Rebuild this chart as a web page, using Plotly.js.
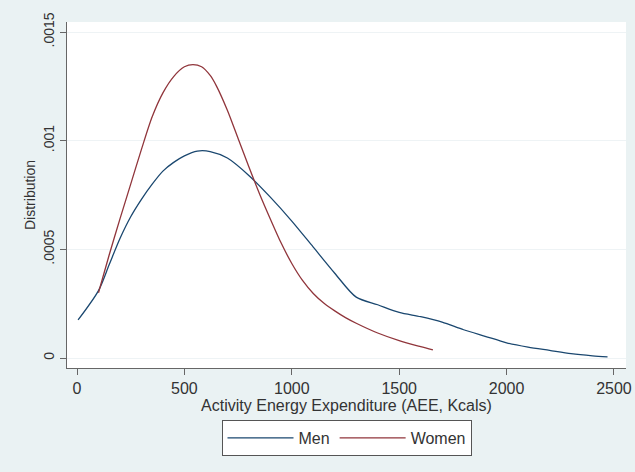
<!DOCTYPE html>
<html>
<head>
<meta charset="utf-8">
<script src="https://cdn.plot.ly/plotly-3.0.1.min.js"></script>
<style>html,body{margin:0;padding:0;background:#eaf2f3;}#chart{width:635px;height:472px;}</style>
</head>
<body>
<div id="chart"></div>
<script>
// Men: kernel density of activity energy expenditure
const menX = [5, 100, 150, 200, 250, 300, 350, 400, 450, 500, 560, 620, 700, 800, 900, 1000, 1100, 1200, 1300, 1400, 1500, 1600, 1700, 1800, 1900, 2000, 2100, 2200, 2300, 2400, 2470];
const menY = [0.000175, 0.00031, 0.00043, 0.00055, 0.00065, 0.00073, 0.0008, 0.00086, 0.0009, 0.00093, 0.000952, 0.00095, 0.00092, 0.00084, 0.00074, 0.00063, 0.00051, 0.00039, 0.00028, 0.000245, 0.00021, 0.00019, 0.000165, 0.00013, 0.0001, 0.00007, 0.00005, 0.000035, 0.00002, 0.00001, 0.000005];
// Women
const womenX = [100, 150, 200, 250, 300, 350, 400, 450, 500, 540, 580, 620, 650, 700, 750, 800, 850, 900, 950, 1000, 1050, 1100, 1150, 1200, 1250, 1300, 1400, 1500, 1600, 1657];
const womenY = [0.0003, 0.000475, 0.00064, 0.0008, 0.00096, 0.00111, 0.00122, 0.001295, 0.00134, 0.00135, 0.00134, 0.0013, 0.00125, 0.00114, 0.00101, 0.00088, 0.000755, 0.00064, 0.00053, 0.000435, 0.000357, 0.000297, 0.000252, 0.000217, 0.000186, 0.00016, 0.000115, 0.00008, 0.000052, 0.000037];

const xTickVals = [0, 500, 1000, 1500, 2000, 2500];
const xTickText = ["0", "500", "1000", "1500", "2000", "2500"];
const yTickVals = [0, 0.0005, 0.001, 0.0015];
const yTickText = ["0", ".0005", ".001", ".0015"];

const seriesNames = ["Men", "Women"];

const font = "Liberation Sans, Arial, sans-serif";

const traces = [
  {x: menX, y: menY, name: seriesNames[0], type: "scatter", mode: "lines",
   line: {color: "#1a476f", width: 1.3, shape: "spline", smoothing: 0.8}},
  {x: womenX, y: womenY, name: seriesNames[1], type: "scatter", mode: "lines",
   line: {color: "#90353b", width: 1.3, shape: "spline", smoothing: 0.8}}
];

const layout = {
  width: 635, height: 472,
  paper_bgcolor: "#eaf2f3",
  plot_bgcolor: "#ffffff",
  margin: {l: 67, r: 9, t: 22, b: 104, pad: 0},
  font: {family: font, size: 16, color: "#333333"},
  xaxis: {
    range: [-46.6, 2556],
    tickvals: xTickVals, ticktext: xTickText,
    ticks: "outside", ticklen: 6, tickcolor: "#666666", tickwidth: 1,
    showline: true, linecolor: "#666666", linewidth: 1,
    showgrid: false, zeroline: false,
    tickfont: {size: 16, family: font, color: "#333333"},
    title: {text: "Activity Energy Expenditure (AEE, Kcals)", font: {size: 16, family: font, color: "#333333"}, standoff: 0}
  },
  yaxis: {
    range: [-0.000046, 0.001546],
    tickvals: yTickVals, ticktext: yTickText,
    tickangle: -90,
    ticks: "outside", ticklen: 6, tickcolor: "#666666", tickwidth: 1,
    showline: true, linecolor: "#666666", linewidth: 1,
    showgrid: true, gridcolor: "#eef3f5", gridwidth: 1,
    zeroline: false,
    tickfont: {size: 14, family: font, color: "#333333"},
    title: {text: "Distribution", font: {size: 14, family: font, color: "#333333"}, standoff: 2}
  },
  showlegend: true,
  legend: {
    orientation: "h", x: 0.5, xanchor: "center", y: -0.150, yanchor: "top",
    bgcolor: "#ffffff", bordercolor: "#555555", borderwidth: 1,
    font: {size: 16, family: font, color: "#333333"},
    itemwidth: 66, tracegroupgap: 0
  }
};

Plotly.newPlot("chart", traces, layout, {staticPlot: true, displayModeBar: false});
</script>
</body>
</html>
